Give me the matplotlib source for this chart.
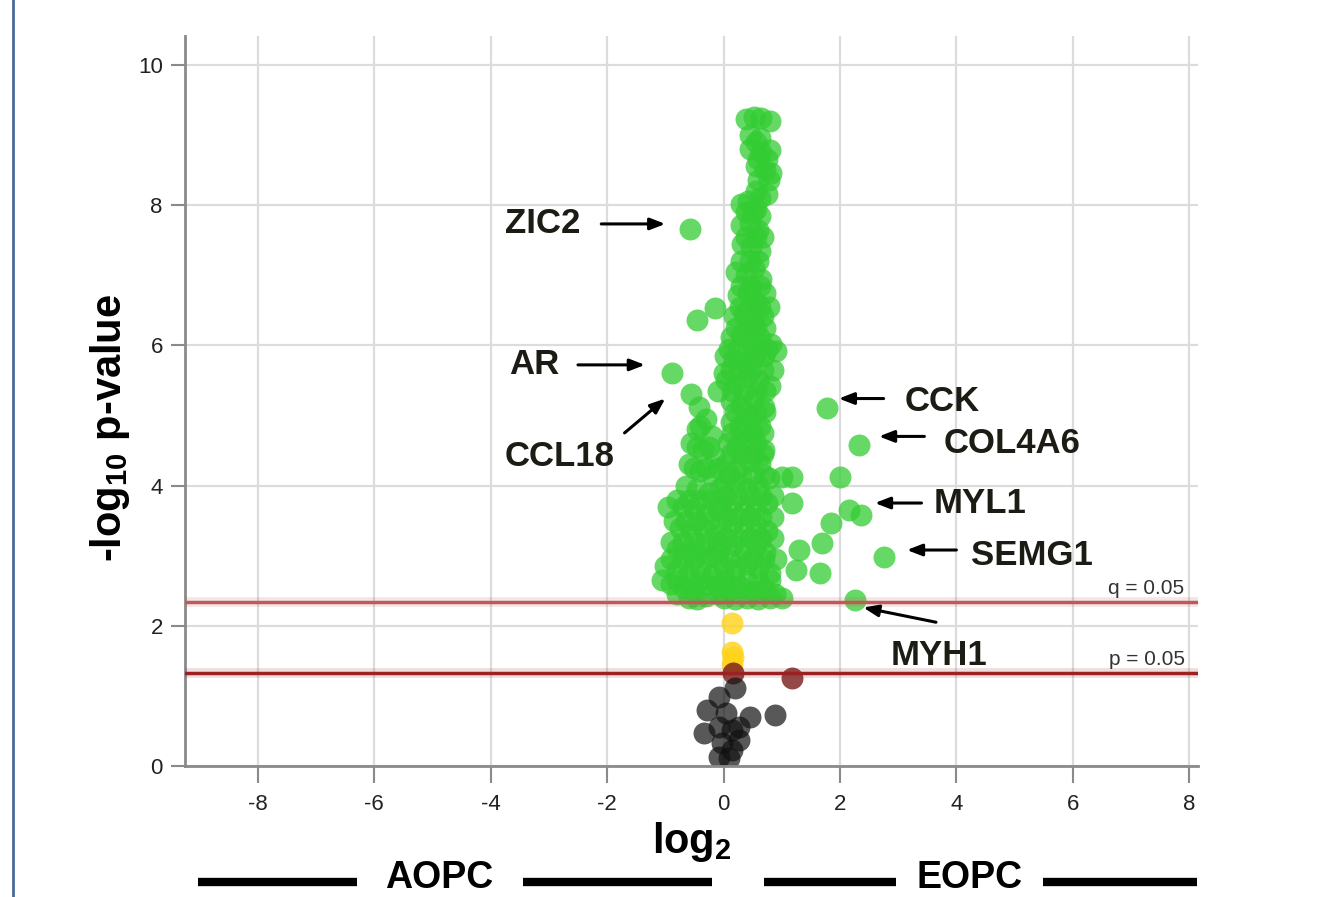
import numpy as np
import matplotlib
matplotlib.use("Agg")
import matplotlib.pyplot as plt
from matplotlib.lines import Line2D
import matplotlib.transforms as mtransforms

plt.rcParams['font.family'] = ['Liberation Sans', 'DejaVu Sans']
plt.rcParams['axes.unicode_minus'] = False
plt.rcParams['mathtext.fontset'] = 'custom'
plt.rcParams['mathtext.rm'] = 'Liberation Sans'
plt.rcParams['mathtext.bf'] = 'Liberation Sans:bold'

# significant genes (q < 0.05), log2 fold change and -log10 p
green_x = [
    # main column
    0.38, 0.52, 0.65, 0.80, 0.45, 0.62, 0.45, 0.65, 0.80, 0.55, 0.72, 0.82,
    0.55, 0.75, 0.30, 0.42, 0.55, 0.62, 0.30, 0.45, 0.60, 0.32, 0.48, 0.62,
    0.22, 0.38, 0.52, 0.65, 0.25, 0.42, 0.55, 0.72, 0.18, 0.35, 0.50, 0.68,
    0.12, 0.30, 0.45, 0.62, 0.82, 0.02, 0.18, 0.35, 0.52, 0.70, 0.90,
    0.05, 0.22, 0.40, 0.60, 0.80, 0.12, 0.30, 0.50, 0.70,
    0.12, 0.28, 0.45, 0.62, 0.08, 0.22, 0.40, 0.55, 0.70,
    0.05, 0.25, 0.45, 0.62, 0.00, 0.20, 0.40, 0.60, 0.78, 1.00, 1.18,
    -0.05, 0.15, 0.35, 0.55, 0.75, 1.17, -0.05, 0.15, 0.35, 0.55, 0.75,
    -0.05, 0.15, 0.35, 0.55, 0.72, 1.30, 1.70,
    0.00, 0.20, 0.40, 0.60, 0.80, 1.25, 1.65,
    -0.10, 0.10, 0.30, 0.50, 0.70, 0.88,
    -0.30, 0.00, 0.20, 0.40, 0.60, 0.80, 1.00,
    # main column, in-between rows
    0.55, 0.60, 0.75, 0.60, 0.78, 0.62, 0.38, 0.50,
    0.38, 0.55, 0.68, 0.30, 0.45, 0.60, 0.30, 0.48, 0.62,
    0.28, 0.45, 0.62, 0.78, 0.22, 0.40, 0.55, 0.72,
    0.10, 0.25, 0.42, 0.60, 0.75, 0.12, 0.30, 0.48, 0.68, 0.85,
    0.15, 0.35, 0.55, 0.72, 0.20, 0.38, 0.55, 0.72,
    0.15, 0.32, 0.50, 0.68, 0.12, 0.30, 0.50, 0.68,
    0.10, 0.30, 0.50, 0.70, 0.05, 0.25, 0.45, 0.65, 0.85,
    0.05, 0.25, 0.45, 0.65, 0.85, 0.05, 0.25, 0.45, 0.65, 0.85,
    0.10, 0.30, 0.50, 0.70, 0.90, 0.00, 0.20, 0.40, 0.60, 0.80,
    # left shoulder
    -0.55, -0.42, -0.30, -0.45, -0.20, -0.55, -0.35, -0.15,
    -0.60, -0.40, -0.20, -0.65, -0.45, -0.25, -0.08,
    -0.95, -0.70, -0.50, -0.30, -0.10, -0.75, -0.55, -0.35, -0.15,
    -0.80, -0.60, -0.40, -0.20, -1.00, -0.80, -0.60, -0.40, -0.20,
    -0.90, -0.70, -0.50, -0.30, -0.60, -0.45,
    # left shoulder, in-between rows
    -0.40, -0.45, -0.25, -0.50, -0.30, -0.10,
    -0.80, -0.60, -0.40, -0.20, -0.85, -0.65, -0.45, -0.25,
    -0.90, -0.70, -0.50, -0.30, -0.10, -0.90, -0.70, -0.50, -0.30, -0.10,
    -1.05, -0.80, -0.60, -0.40, -0.20, 0.00, -0.80, -0.10,
    # scattered
    -0.58, -0.89, -0.14, -0.46, 0.00, -0.10,
    1.77, 2.33, 2.00, 2.37, 2.16, 1.85, 2.76, 2.25,
]
green_y = [
    9.22, 9.25, 9.24, 9.20, 9.00, 8.95, 8.80, 8.75, 8.78, 8.55, 8.50, 8.45,
    8.20, 8.15, 8.02, 8.05, 7.95, 7.85, 7.72, 7.75, 7.65, 7.45, 7.40, 7.35,
    7.05, 7.00, 7.10, 6.95, 6.72, 6.75, 6.62, 6.75, 6.42, 6.45, 6.35, 6.42,
    6.12, 6.15, 6.05, 6.10, 6.02, 5.85, 5.80, 5.75, 5.82, 5.85, 5.92,
    5.50, 5.45, 5.55, 5.50, 5.42, 5.20, 5.15, 5.25, 5.12,
    4.90, 4.85, 4.95, 4.85, 4.60, 4.55, 4.65, 4.60, 4.50,
    4.30, 4.25, 4.35, 4.30, 4.02, 4.05, 3.95, 4.00, 4.10, 4.12, 4.12,
    3.72, 3.75, 3.65, 3.70, 3.75, 3.75, 3.42, 3.45, 3.38, 3.42, 3.35,
    3.12, 3.15, 3.10, 3.15, 3.05, 3.08, 3.18,
    2.85, 2.80, 2.88, 2.82, 2.75, 2.80, 2.75,
    2.55, 2.50, 2.55, 2.50, 2.52, 2.45,
    2.42, 2.40, 2.38, 2.40, 2.38, 2.40, 2.40,
    8.90, 8.65, 8.65, 8.35, 8.35, 8.10, 7.90, 7.90,
    7.55, 7.55, 7.55, 7.20, 7.20, 7.20, 6.85, 6.85, 6.85,
    6.55, 6.55, 6.55, 6.55, 6.25, 6.25, 6.25, 6.25,
    5.95, 5.95, 5.95, 5.95, 5.95, 5.65, 5.65, 5.65, 5.65, 5.65,
    5.35, 5.35, 5.35, 5.35, 5.05, 5.05, 5.05, 5.05,
    4.75, 4.75, 4.75, 4.75, 4.45, 4.45, 4.45, 4.45,
    4.15, 4.15, 4.15, 4.15, 3.85, 3.85, 3.85, 3.85, 3.85,
    3.55, 3.55, 3.55, 3.55, 3.55, 3.25, 3.25, 3.25, 3.25, 3.25,
    2.95, 2.95, 2.95, 2.95, 2.95, 2.65, 2.65, 2.65, 2.65, 2.65,
    5.30, 5.12, 4.95, 4.80, 4.70, 4.60, 4.50, 4.40,
    4.30, 4.20, 4.15, 4.00, 3.95, 3.90, 3.95,
    3.70, 3.70, 3.65, 3.60, 3.65, 3.40, 3.35, 3.40, 3.30,
    3.10, 3.05, 3.10, 3.00, 2.85, 2.80, 2.75, 2.80, 2.72,
    2.60, 2.55, 2.50, 2.58, 2.40, 2.38,
    4.85, 4.55, 4.55, 4.25, 4.25, 4.25,
    3.80, 3.80, 3.80, 3.80, 3.50, 3.50, 3.50, 3.50,
    3.20, 3.20, 3.20, 3.20, 3.20, 2.95, 2.95, 2.95, 2.95, 2.95,
    2.65, 2.65, 2.65, 2.65, 2.65, 2.65, 2.45, 2.45,
    7.66, 5.60, 6.53, 6.36, 5.60, 5.35,
    5.10, 4.58, 4.12, 3.58, 3.65, 3.47, 2.98, 2.37,
]

# nominal p < 0.05 but q >= 0.05
yellow_x = [0.14, 0.15, 0.17, 0.14]
yellow_y = [2.04, 1.63, 1.55, 1.45]

# on the p = 0.05 boundary
red_x = [0.17, 1.18]
red_y = [1.33, 1.26]

# not significant
black_x = [0.19, -0.07, -0.29, 0.45, 0.88, 0.05, -0.33, -0.07, 0.15, -0.02,
           0.15, -0.07, 0.10, 0.27, 0.27]
black_y = [1.11, 0.98, 0.80, 0.70, 0.73, 0.75, 0.47, 0.56, 0.51, 0.33,
           0.23, 0.13, 0.11, 0.56, 0.37]

q_cut = 2.34
p_cut = 1.32

# gene labels: name, arrow tip, arrow tail, text centre
genes = ['ZIC2', 'AR', 'CCL18', 'CCK', 'COL4A6', 'MYL1', 'SEMG1', 'MYH1']
gene_tip = [(-1.0, 7.73), (-1.35, 5.72), (-1.0, 5.24), (1.98, 5.24),
            (2.67, 4.7), (2.6, 3.75), (3.15, 3.08), (2.4, 2.26)]
gene_tail = [(-2.1, 7.73), (-2.5, 5.72), (-1.7, 4.75), (2.75, 5.24),
             (3.45, 4.7), (3.4, 3.75), (4.0, 3.08), (3.65, 2.05)]
gene_text = [(-3.1, 7.73), (-3.25, 5.72), (-2.82, 4.41), (3.75, 5.2),
             (4.96, 4.6), (4.4, 3.75), (5.3, 3.0), (3.7, 1.58)]

fig = plt.figure(figsize=(13.26, 8.97), dpi=100)
ax = fig.add_axes([185/1326, 1 - 766/897, (1198 - 185)/1326, (766 - 36)/897])

dot = 250
ax.scatter(green_x, green_y, s=dot, color='#33cc33', alpha=0.75, lw=0, zorder=2)
ax.scatter(yellow_x, yellow_y, s=dot, color='#ffd21a', alpha=0.8, lw=0, zorder=2)
ax.scatter(red_x, red_y, s=dot, color='#7a1a1a', alpha=0.8, lw=0, zorder=2)
ax.scatter(black_x, black_y, s=dot, color='#111111', alpha=0.7, lw=0, zorder=2)

for yc, col in [(q_cut, '#c05a5a'), (p_cut, '#9a2222')]:
    ax.axhline(yc, color=col, lw=7, alpha=0.15, zorder=3)
    ax.axhline(yc, color=col, lw=2.5, zorder=3)
ax.text(7.92, q_cut + 0.06, 'q = 0.05', ha='right', va='bottom', fontsize=15, color='#333333')
ax.text(7.92, p_cut + 0.06, 'p = 0.05', ha='right', va='bottom', fontsize=15, color='#333333')

for name, tip, tail, pos in zip(genes, gene_tip, gene_tail, gene_text):
    ax.annotate('', xy=tip, xytext=tail,
                arrowprops=dict(arrowstyle='-|>,head_length=0.9,head_width=0.35',
                                lw=2.2, color='black', shrinkA=0, shrinkB=0))
    ax.text(pos[0], pos[1], name, ha='center', va='center', fontsize=25,
            fontweight='bold', color='#1c1c14')

ax.set_xlim(-9.25, 8.15)
ax.set_ylim(0, 10.41)
ax.set_xticks(np.arange(-8, 9, 2))
ax.set_yticks(np.arange(0, 11, 2))
ax.grid(True, color='#dcdcdc', lw=1.6, zorder=0)
ax.set_axisbelow(True)
for s in ['top', 'right']:
    ax.spines[s].set_visible(False)
for s in ['left', 'bottom']:
    ax.spines[s].set_color('#8a8a8a')
    ax.spines[s].set_linewidth(2)
ax.tick_params(axis='x', length=12, width=1.5, color='#8a8a8a', pad=8,
               labelsize=16, labelcolor='#222222')
ax.tick_params(axis='y', length=10, width=1.5, color='#8a8a8a', pad=6,
               labelsize=16, labelcolor='#222222')

ax.set_xlabel(r'log$_{\mathbf{2}}$', fontsize=30, fontweight='bold', labelpad=4)
ax.set_ylabel(r'-log$_{\mathbf{10}}$ p-value', fontsize=30, fontweight='bold')
ax.yaxis.set_label_coords(-0.052, 0.463)

# group bar under the x axis
trans = mtransforms.blended_transform_factory(ax.transData, fig.transFigure)
bar_y = 1 - 882/897
text_y = 1 - 888/897
for x0, x1 in [(-9.03, -6.3), (-3.45, -0.19), (0.70, 2.97), (5.48, 8.14)]:
    fig.add_artist(Line2D([x0, x1], [bar_y, bar_y], transform=trans,
                          color='black', lw=6, solid_capstyle='butt'))
fig.text(-4.88, text_y, 'AOPC', transform=trans, ha='center', va='baseline',
         fontsize=27, fontweight='bold', color='black')
fig.text(4.22, text_y, 'EOPC', transform=trans, ha='center', va='baseline',
         fontsize=27, fontweight='bold', color='black')

# panel border on the left
fig.add_artist(Line2D([13/1326, 13/1326], [0, 1], transform=fig.transFigure,
                      color='#4a6a9a', lw=2))

fig.savefig('out.png', dpi=100)
